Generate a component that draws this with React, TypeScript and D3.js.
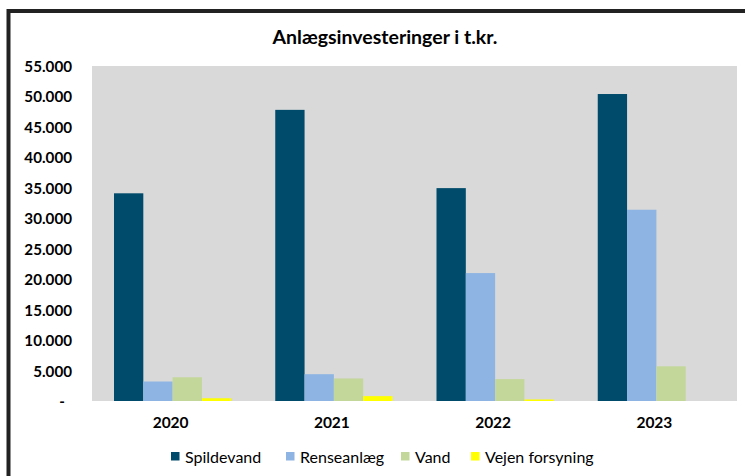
import React from "react";
import * as d3 from "d3";

const years = ["2020", "2021", "2022", "2023"];
const seriesNames = ["Spildevand", "Renseanlæg", "Vand", "Vejen forsyning"];
const spildevand = [34100, 47800, 34950, 50400];
const renseanlaeg = [3200, 4400, 21000, 31400];
const vand = [3900, 3700, 3600, 5700];
const vejenForsyning = [450, 800, 250, 0];
const yTicks = [0, 5000, 10000, 15000, 20000, 25000, 30000, 35000, 40000, 45000, 50000, 55000];
const title = "Anlægsinvesteringer i t.kr.";

const colors = ["#004B6B", "#8DB4E2", "#C4D79B", "#FFFF00"];
const legendX = [171, 286, 401, 471];

const W = 745, H = 476;
const plot = { left: 92, right: 737, top: 66, bottom: 401 };
const FONT = "Lato, 'Liberation Sans', Arial, sans-serif";

export default function App() {
  const series = [spildevand, renseanlaeg, vand, vejenForsyning];
  const x0 = d3.scaleBand<string>().domain(years).range([plot.left, plot.right]).paddingInner(0).paddingOuter(0);
  const groupPad = 22;
  const x1 = d3
    .scaleBand<string>()
    .domain(seriesNames)
    .range([groupPad, x0.bandwidth() - groupPad])
    .padding(0);
  const y = d3.scaleLinear().domain([0, 55000]).range([plot.bottom, plot.top]);
  const fmt = (v: number) => (v === 0 ? "-" : d3.format(",")(v).replace(/,/g, "."));

  return (
    <div style={{ position: "fixed", left: 0, top: 0, width: W, height: H, background: "#fff" }}>
      <svg width={W} height={H} style={{ display: "block" }}>
        <rect x={0} y={0} width={W} height={H} fill="#fff" />
        <rect x={8.5} y={11} width={W + 20} height={H + 20} fill="none" stroke="#222" strokeWidth={4} />
        <text x={385} y={36} textAnchor="middle" dominantBaseline="central" fontFamily={FONT} fontWeight="bold" fontSize={19.5} fill="#000">
          {title}
        </text>
        <rect x={plot.left} y={plot.top} width={plot.right - plot.left} height={plot.bottom - plot.top} fill="#D9D9D9" />
        {series.map((vals, si) =>
          years.map((yr, i) => {
            const v = vals[i];
            if (v <= 0) return null;
            return (
              <rect
                key={`${si}-${i}`}
                x={(x0(yr) as number) + (x1(seriesNames[si]) as number)}
                y={y(v)}
                width={x1.bandwidth()}
                height={plot.bottom - y(v)}
                fill={colors[si]}
              />
            );
          })
        )}
        {yTicks.map((t) => (
          <text
            key={t}
            x={t === 0 ? 65 : 72}
            y={y(t)}
            textAnchor="end"
            dominantBaseline="central"
            fontFamily={FONT}
            fontWeight="bold"
            fontSize={15.2}
            fill="#000"
          >
            {fmt(t)}
          </text>
        ))}
        {years.map((yr) => (
          <text
            key={yr}
            x={(x0(yr) as number) + x0.bandwidth() / 2 - 2}
            y={422}
            textAnchor="middle"
            dominantBaseline="central"
            fontFamily={FONT}
            fontWeight="bold"
            fontSize={15.5}
            fill="#000"
          >
            {yr}
          </text>
        ))}
        {seriesNames.map((n, i) => (
          <g key={n} transform={`translate(${legendX[i]},456)`}>
            <rect x={0} y={-4} width={8.5} height={8.5} fill={colors[i]} />
            <text x={14} y={0} dominantBaseline="central" fontFamily={FONT} fontSize={16} fill="#000">
              {n}
            </text>
          </g>
        ))}
      </svg>
    </div>
  );
}
